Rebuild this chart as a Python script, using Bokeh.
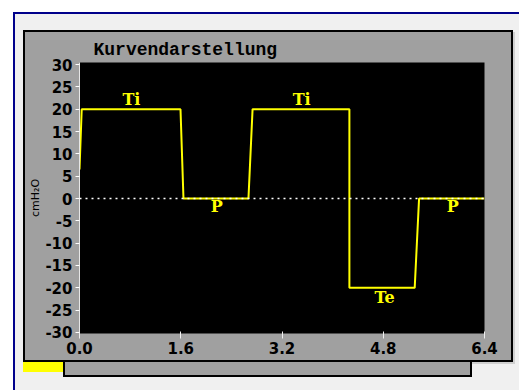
from bokeh.plotting import figure
from bokeh.models import Span, FixedTicker, PrintfTickFormatter, Range1d, InlineStyleSheet, Title
from bokeh.core.properties import value
from bokeh.embed import file_html
from bokeh.resources import INLINE

# ---- data ----
time_s = [0.0, 0.035, 1.596, 1.643, 2.67, 2.735, 4.265, 4.265, 5.297, 5.366, 6.4]
pressure = [6.5, 20, 20, 0, 0, 20, 20, -20, -20, 0, 0]
phase_x = [0.82, 2.17, 3.51, 4.82, 5.9]
phase_y = [22.2, -1.9, 22.2, -22.2, -1.9]
phase_text = ["Ti", "P", "Ti", "Te", "P"]
x_ticks = [0.0, 1.6, 3.2, 4.8, 6.4]
y_ticks = [-30, -25, -20, -15, -10, -5, 0, 5, 10, 15, 20, 25, 30]
title_text = "Kurvendarstellung"
y_label_text = "cmH\u2082O"

# ---- layout ----
W, H = 519, 390
FL, FR, FT, FB = 79, 484, 62, 333
X0, X1 = 0.0, 6.4
Y0, Y1 = -30.224, 30.448

p = figure(width=W, height=H, x_range=Range1d(X0, X1), y_range=Range1d(Y0, Y1),
           output_backend="svg", toolbar_location=None,
           min_border_left=FL, min_border_right=W - FR,
           min_border_top=FT, min_border_bottom=H - FB,
           background_fill_color="black", border_fill_color="white",
           border_fill_alpha=0.0)
p.outline_line_color = None
p.grid.visible = False

# window decoration drawn behind the transparent canvas border (top layer first)
layers = [
    ("#a0a0a0", 25, 32, 486, 328),   # panel face
    ("#000000", 23, 30, 490, 332),   # panel frame
    ("#ffff00", 23, 362, 40, 10),    # yellow tab
    ("#a0a0a0", 65, 362, 405, 13),   # lower tab face
    ("#000000", 63, 360, 409, 17),   # lower tab frame
    ("#d0d0d0", 25, 32, 490, 332),   # faint shadow
    ("#f0f0f0", 15, 14, 504, 376),   # dialog background
    ("#00008b", 13, 12, 506, 378),   # blue edge
]
bg = ", ".join(f"linear-gradient({c},{c}) {x}px {y}px / {w}px {h}px no-repeat"
               for c, x, y, w, h in layers)
p.stylesheets = [InlineStyleSheet(css=f":host {{ background: {bg}; background-color: #ffffff; }}")]

p.title.text = title_text
p.title.align = "left"
p.title.offset = 14
p.title.standoff = 6
p.title.text_font = "Liberation Mono"
p.title.text_font_style = "bold"
p.title.text_font_size = "18px"
p.title.text_color = "black"

p.add_layout(Title(text=y_label_text, align="center", offset=10, standoff=2,
                   text_font="DejaVu Sans", text_font_style="normal",
                   text_font_size="11px", text_color="black"), "left")

p.add_layout(Span(location=0, dimension="width", line_color="white", line_dash="2 4",
                  line_width=1.3))

p.line(time_s, pressure, line_color="#ffff00", line_width=2)
p.text(x=phase_x, y=phase_y, text=phase_text, text_color="#ffff00",
       text_font=value("DejaVu Serif"), text_font_style="bold", text_font_size="16px",
       text_align="center", text_baseline="middle")

ax = p.xaxis[0]
ax.ticker = FixedTicker(ticks=x_ticks)
ax.formatter = PrintfTickFormatter(format="%.1f")
ax.axis_line_color = None
ax.major_tick_line_color = "#eeeeee"
ax.major_tick_in = 2
ax.major_tick_out = 5
ax.minor_tick_line_color = None
ax.major_label_standoff = 3

ay = p.yaxis[0]
ay.ticker = FixedTicker(ticks=y_ticks)
ay.formatter = PrintfTickFormatter(format="%d")
ay.axis_line_color = "#e6e6e6"
ay.major_tick_line_color = "#ffffff"
ay.major_tick_in = 0
ay.major_tick_out = 4
ay.minor_tick_line_color = None
ay.major_label_standoff = 3

for a in (ax, ay):
    a.major_label_text_font = "DejaVu Sans"
    a.major_label_text_font_style = "bold"
    a.major_label_text_font_size = "15px"
    a.major_label_text_color = "black"

open("out.html", "w").write(file_html(p, INLINE))
